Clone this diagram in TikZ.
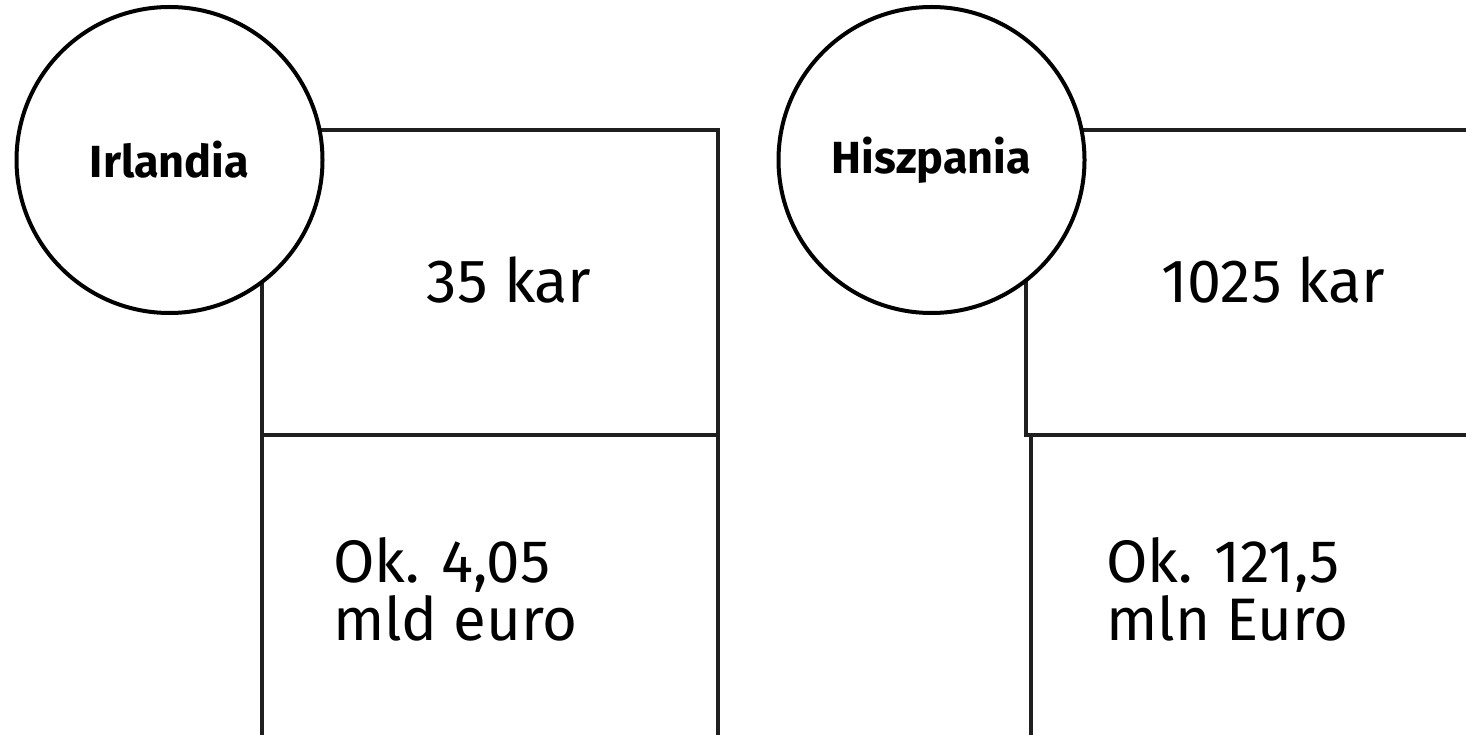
\documentclass[tikz,border=0pt]{standalone}
\usepackage{fontspec}
\setmainfont{Fira Sans}
\begin{document}
\begin{tikzpicture}[x=1pt,y=-1pt,
  frame/.style={draw=black!88,line width=4pt},
  country/.style={circle,draw=black,line width=4pt,fill=white,minimum size=306pt,inner sep=0pt,
    font=\fontsize{45}{50}\selectfont\bfseries},
  amount/.style={inner sep=0pt,font=\fontsize{61}{64}\selectfont},
  valuetext/.style={inner sep=0pt,anchor=base west,align=left,font=\fontsize{60}{58}\selectfont}]
\useasboundingbox (0,0) rectangle (1466,735);
\fill[white] (0,0) rectangle (1466,735);

% Ireland: two stacked cells
\draw[frame] (262,282) -- (262,435) -- (718,435) -- (718,130) -- (310,130);
\draw[frame] (262,435) -- (262,740);
\draw[frame] (718,435) -- (718,740);
\node[country] (irl) at (169.5,160) {Irlandia};
\node[amount] (irlcars) at (509,280) {35 kar};
\node[valuetext] (irlvalue) at (333,640) {Ok. 4,05\\mld euro};

% Spain: two stacked cells, running off the right edge
\draw[frame] (1026,280) -- (1026,435) -- (1470,435);
\draw[frame] (1031,435) -- (1031,740);
\draw[frame] (1470,130) -- (1070,130);
\node[country] (esp) at (931.5,160) {Hiszpania};
\node[amount] (espcars) at (1273,280) {1025 kar};
\node[valuetext] (espvalue) at (1106,640) {Ok. 121,5\\mln Euro};
\end{tikzpicture}
\end{document}
